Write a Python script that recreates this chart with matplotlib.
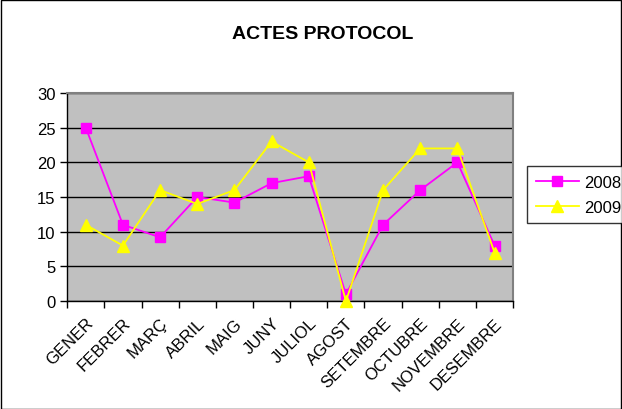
import numpy as np
from matplotlib import pyplot as plt
from matplotlib.patches import Rectangle

plt.rcParams['font.family'] = ['Liberation Sans', 'DejaVu Sans']

months = ['GENER', 'FEBRER', 'MARÇ', 'ABRIL', 'MAIG', 'JUNY', 'JULIOL',
          'AGOST', 'SETEMBRE', 'OCTUBRE', 'NOVEMBRE', 'DESEMBRE']
actes_2008 = [25, 11, 9.2, 15, 14.2, 17, 18, 1, 11, 16, 20, 8]
actes_2009 = [11, 8, 16, 14, 16, 23, 20, 0, 16, 22, 22, 7]

fig = plt.figure(figsize=(6.22, 4.10), dpi=100)
fig.patches.append(Rectangle((0.001, 0.001), 0.997, 0.997, transform=fig.transFigure,
                             fill=False, edgecolor='black', linewidth=1))

ax = fig.add_axes([0.108, 0.263, 0.717, 0.508])
ax.set_facecolor('#c0c0c0')

x = np.arange(len(months))
ax.plot(x, actes_2008, color='#ff00ff', marker='s', markersize=7,
        linewidth=1.3, label='2008', clip_on=False, zorder=3)
ax.plot(x, actes_2009, color='#ffff00', marker='^', markersize=8,
        linewidth=1.3, label='2009', clip_on=False, zorder=3)

ax.set_xlim(-0.5, len(months) - 0.5)
ax.set_ylim(0, 30)
ax.set_yticks(range(0, 31, 5))
ax.yaxis.grid(True, color='black', linewidth=1)
ax.set_axisbelow(True)

ax.set_xticks(x)
ax.set_xticklabels(months, rotation=45, ha='right', rotation_mode='anchor')
ax.set_xticks(np.arange(-0.5, len(months)), minor=True)
ax.tick_params(axis='x', which='major', length=0, pad=10, labelsize=12)
ax.tick_params(axis='x', which='minor', length=5, width=1)
ax.tick_params(axis='y', length=5, width=1, labelsize=12)

for side in ['top', 'right']:
    ax.spines[side].set_color('#808080')
    ax.spines[side].set_linewidth(1.5)
for side in ['left', 'bottom']:
    ax.spines[side].set_linewidth(1)

fig.text(0.518, 0.915, 'ACTES PROTOCOL', ha='center', va='center',
         fontsize=14, fontweight='bold')

leg = fig.legend(loc='upper left', bbox_to_anchor=(0.848, 0.592), frameon=True,
                 fancybox=False, edgecolor='black', fontsize=12, handlelength=2.6,
                 handletextpad=0.3, borderpad=0.5, borderaxespad=0, labelspacing=0.6)
leg.get_frame().set_linewidth(1)

plt.savefig('out.png', dpi=100)
plt.close()
